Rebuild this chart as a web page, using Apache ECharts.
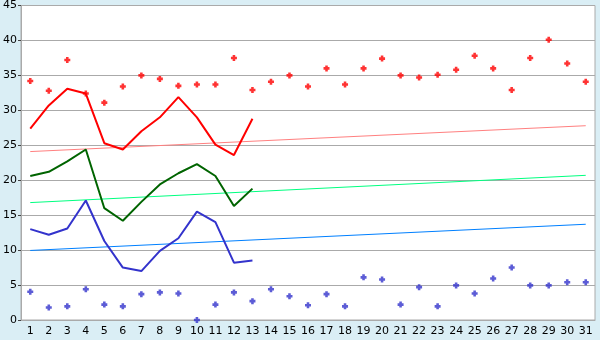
<!DOCTYPE html>
<html>
<head>
<meta charset="utf-8">
<script src="https://cdn.jsdelivr.net/npm/echarts@6/dist/echarts.min.js"></script>
<style>
html,body{margin:0;padding:0;background:#daeef5;}
#c{width:600px;height:340px;}
</style>
</head>
<body>
<div id="c"></div>
<script>
var days = ['1','2','3','4','5','6','7','8','9','10','11','12','13','14','15','16','17','18','19','20','21','22','23','24','25','26','27','28','29','30','31'];
var yTicks = [0,5,10,15,20,25,30,35,40,45];
var redLine = [27.4,30.7,33.1,32.4,25.3,24.4,27.0,29.0,31.9,29.0,25.1,23.6,28.8];
var greenLine = [20.6,21.2,22.7,24.4,16.0,14.2,16.9,19.4,21.0,22.3,20.6,16.3,18.8];
var blueLine = [13.0,12.2,13.1,17.1,11.3,7.5,7.0,9.9,11.7,15.5,14.0,8.2,8.5];
var redPoints = [34.2,32.8,37.2,32.4,31.1,33.4,35.0,34.5,33.5,33.7,33.7,37.5,32.9,34.1,35.0,33.4,36.0,33.7,36.0,37.4,35.0,34.7,35.1,35.8,37.8,36.0,32.9,37.5,40.1,36.7,34.1];
var bluePoints = [4.05,1.8,1.95,4.4,2.2,1.95,3.7,3.95,3.8,0.0,2.2,3.95,2.7,4.4,3.4,2.1,3.7,1.95,6.1,5.8,2.2,4.7,1.95,4.95,3.8,5.95,7.5,4.95,4.95,5.4,5.4];
var redTrend = [24.1,27.8];
var greenTrend = [16.8,20.7];
var blueTrend = [9.95,13.7];

function trend(t){ return [[0,t[0]],[days.length-1,t[1]]]; }
var mark = 'path://M2,0H5V2H7V5H5V7H2V5H0V2H2Z';

var chart = echarts.init(document.getElementById('c'));
chart.setOption({
  animation:false,
  backgroundColor:'#daeef5',
  grid:{left:21,right:5,top:5,bottom:20,show:true,backgroundColor:'#ffffff',borderColor:'#aaaaaa',borderWidth:1},
  xAxis:{type:'category',data:days,boundaryGap:true,
    axisLine:{lineStyle:{color:'#aaaaaa'}},
    axisTick:{alignWithLabel:true,length:4,lineStyle:{color:'#444444'}},
    axisLabel:{color:'#000',fontFamily:'DejaVu Sans',fontSize:11,margin:6,interval:0},
    splitLine:{show:false}},
  yAxis:{type:'value',min:yTicks[0],max:yTicks[yTicks.length-1],interval:5,
    axisLine:{show:true,lineStyle:{color:'#aaaaaa'}},
    axisTick:{show:true,length:3,lineStyle:{color:'#444444'}},
    axisLabel:{color:'#000',fontFamily:'DejaVu Sans',fontSize:11,margin:4},
    splitLine:{lineStyle:{color:'#aaaaaa'}}},
  series:[
    {type:'line',data:trend(redTrend),symbol:'none',lineStyle:{color:'#ff8080',width:1}},
    {type:'line',data:trend(greenTrend),symbol:'none',lineStyle:{color:'#00ff80',width:1}},
    {type:'line',data:trend(blueTrend),symbol:'none',lineStyle:{color:'#0080ff',width:1}},
    {type:'line',data:redLine,symbol:'none',lineStyle:{color:'#ff0000',width:2}},
    {type:'line',data:greenLine,symbol:'none',lineStyle:{color:'#006400',width:2}},
    {type:'line',data:blueLine,symbol:'none',lineStyle:{color:'#3333cc',width:2}},
    {type:'scatter',data:redPoints,symbol:mark,symbolSize:6,itemStyle:{color:'#ff0000'}},
    {type:'scatter',data:bluePoints,symbol:mark,symbolSize:6,itemStyle:{color:'#3333cc'}}
  ]
});
</script>
</body>
</html>
